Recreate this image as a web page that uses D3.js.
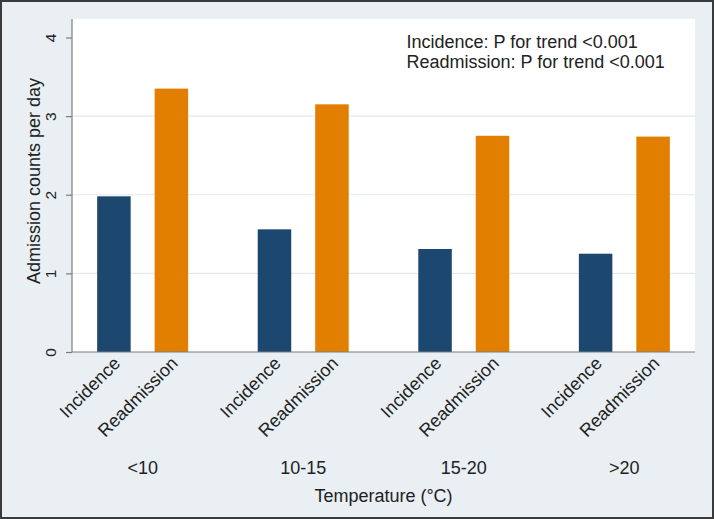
<!DOCTYPE html>
<html>
<head>
<meta charset="utf-8">
<script src="https://cdn.jsdelivr.net/npm/d3@7"></script>
<style>
  html, body { margin: 0; padding: 0; background: #fff; }
  svg { display: block; font-family: "Liberation Sans", Arial, sans-serif; }
</style>
</head>
<body>
<svg id="chart" width="714" height="519"></svg>
<script>
// ---- data ----
const groups = ["<10", "10-15", "15-20", ">20"];
const seriesNames = ["Incidence", "Readmission"];
const incidence = [1.98, 1.56, 1.31, 1.25];
const readmission = [3.35, 3.15, 2.75, 2.74];
const yTicks = [0, 1, 2, 3, 4];
const gridTicks = [1, 2, 3];
const colors = ["#1C4870", "#E37F00"];
const yTitle = "Admission counts per day";
const xTitle = "Temperature (\u00B0C)";
const notes = ["Incidence: P for trend <0.001", "Readmission: P for trend <0.001"];

const W = 714, H = 519;
const plot = { left: 72, right: 695, top: 19, bottom: 352 };

const svg = d3.select("#chart");

// background & border
svg.append("rect").attr("x", 1).attr("y", 1).attr("width", W - 2).attr("height", H - 2)
  .attr("fill", "#E9EFF2").attr("stroke", "#3a3a3a").attr("stroke-width", 2);

// plot region
svg.append("rect").attr("x", plot.left).attr("y", plot.top)
  .attr("width", plot.right - plot.left).attr("height", plot.bottom - plot.top)
  .attr("fill", "#ffffff");

const y = d3.scaleLinear().domain([0, 4]).range([plot.bottom, 37.5]);
const x0 = d3.scalePoint().domain(groups).range([plot.left, plot.right]).padding(0.44);
const x1 = d3.scaleBand().domain(seriesNames).range([-45.5, 45.5]).paddingInner(0.417).paddingOuter(0);

// gridlines
svg.append("g").selectAll("line").data(gridTicks).join("line")
  .attr("x1", plot.left).attr("x2", plot.right)
  .attr("y1", d => y(d)).attr("y2", d => y(d))
  .attr("stroke", "#E1EAEE").attr("stroke-width", 1.2);

// bars
const rows = groups.map((g, i) => ({ group: g, values: [incidence[i], readmission[i]] }));
const gG = svg.append("g").selectAll("g").data(rows).join("g")
  .attr("transform", d => `translate(${x0(d.group)},0)`);
gG.selectAll("rect").data(d => d.values.map((v, j) => ({ s: seriesNames[j], v, j })))
  .join("rect")
  .attr("x", d => x1(d.s)).attr("width", x1.bandwidth())
  .attr("y", d => y(d.v)).attr("height", d => y(0) - y(d.v))
  .attr("fill", d => colors[d.j]);

// y axis
const yAxis = d3.axisLeft(y).tickValues(yTicks).tickSize(6).tickFormat(d3.format("d"));
const ya = svg.append("g").attr("transform", `translate(${plot.left},0)`).call(yAxis)
  .attr("font-size", null).attr("font-family", null);
ya.select(".domain").attr("d", `M0,${plot.top}V${plot.bottom}`).attr("stroke", "#7d7d7d").attr("stroke-width", 1.2);
ya.selectAll(".tick line").attr("stroke", "#7d7d7d").attr("stroke-width", 1.2);
ya.selectAll(".tick text")
  .attr("x", null).attr("dy", null)
  .attr("transform", "translate(-16,0) rotate(-90)")
  .attr("text-anchor", "middle")
  .attr("fill", "#222")
  .style("font-size", "15.5px")
  .style("font-family", "Liberation Sans, Arial, sans-serif");

// x axis line
svg.append("line").attr("x1", plot.left).attr("x2", plot.right)
  .attr("y1", plot.bottom).attr("y2", plot.bottom)
  .attr("stroke", "#7d7d7d").attr("stroke-width", 1.2);

// rotated series labels
gG.selectAll("text.ser").data(seriesNames).join("text").attr("class", "ser")
  .attr("transform", d => `translate(${x1(d) + x1.bandwidth() / 2 + 3},360) rotate(-45)`)
  .attr("text-anchor", "end").attr("dy", "0.35em")
  .attr("font-size", 18).attr("fill", "#222")
  .text(d => d);

// group labels
svg.append("g").selectAll("text").data(groups).join("text")
  .attr("x", d => x0(d)).attr("y", 474)
  .attr("text-anchor", "middle").attr("font-size", 18).attr("fill", "#222")
  .text(d => d);

// axis titles
svg.append("text").attr("x", (plot.left + plot.right) / 2).attr("y", 501.5)
  .attr("text-anchor", "middle").attr("font-size", 18).attr("fill", "#222")
  .text(xTitle);
svg.append("text").attr("transform", "translate(40,181) rotate(-90)")
  .attr("text-anchor", "middle").attr("font-size", 18).attr("fill", "#222")
  .text(yTitle);

// notes
svg.append("g").selectAll("text").data(notes).join("text")
  .attr("x", 406.5).attr("y", (d, i) => 47.5 + i * 20.7)
  .attr("font-size", 18).attr("fill", "#222")
  .text(d => d);
</script>
</body>
</html>
